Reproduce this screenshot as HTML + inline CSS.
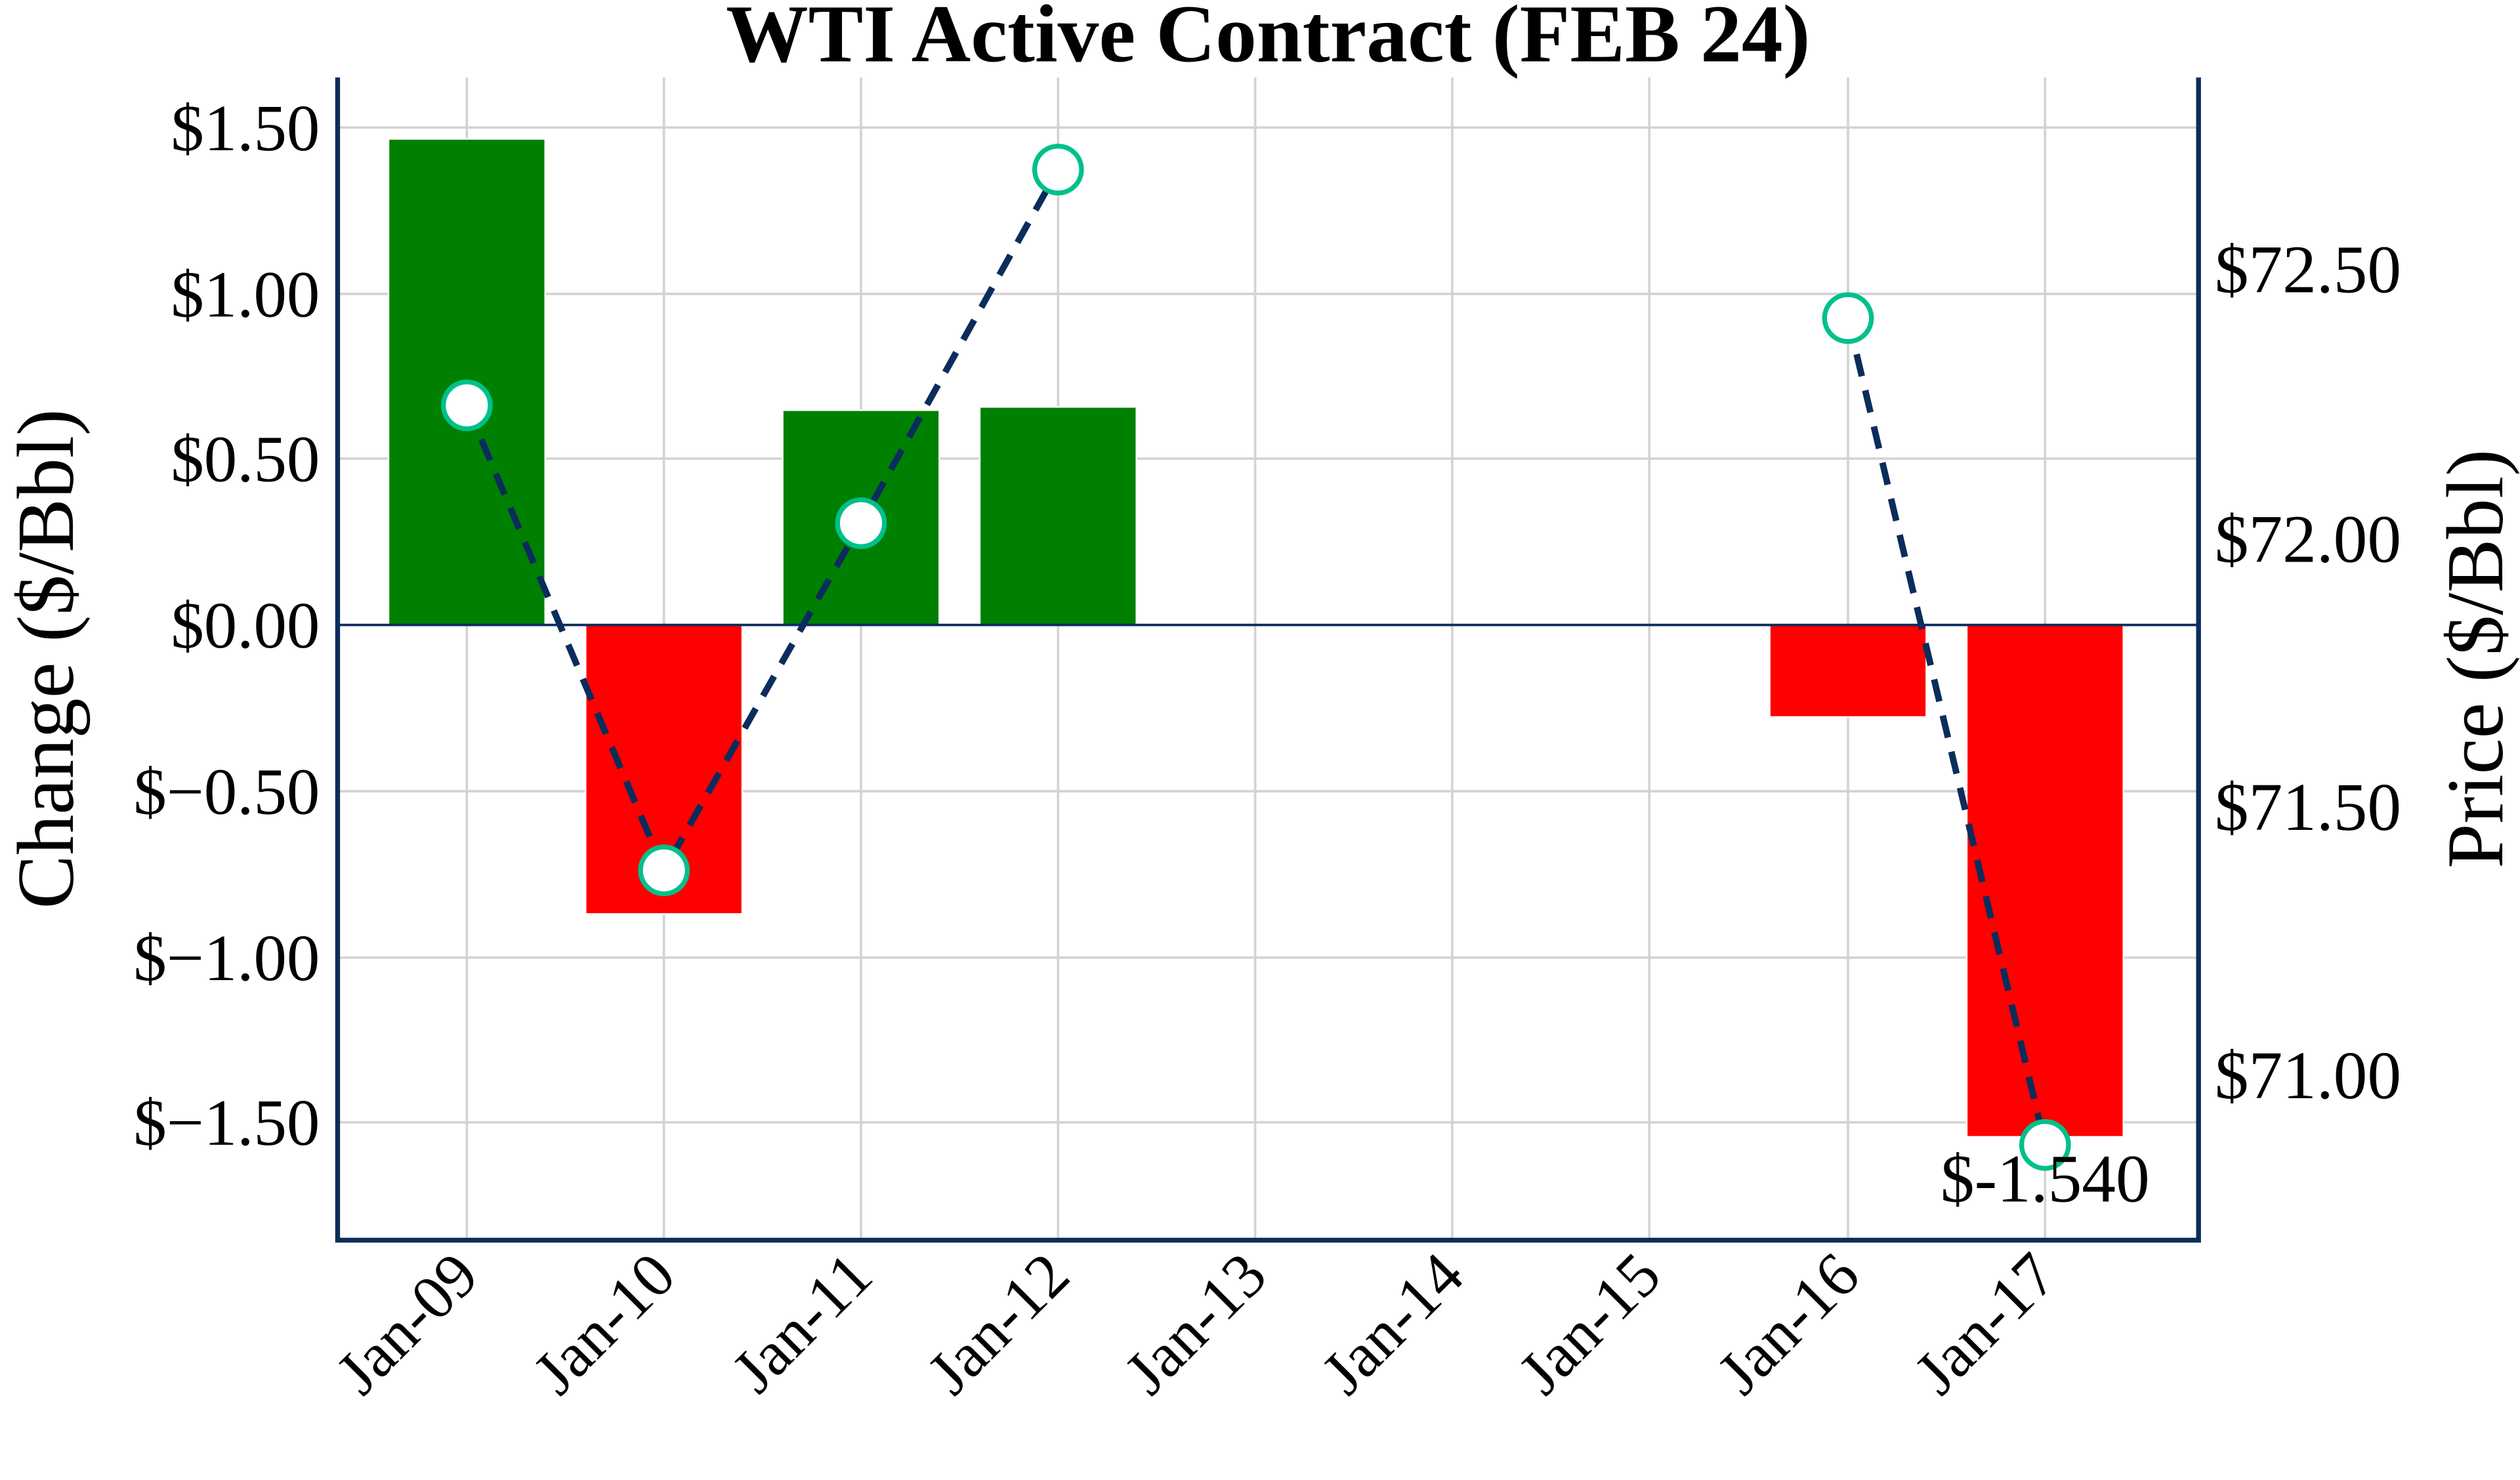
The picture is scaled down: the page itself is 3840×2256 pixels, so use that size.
<!DOCTYPE html>
<html><head><meta charset="utf-8"><style>
html,body{margin:0;padding:0;background:#fff;}
svg{display:block;}
text{font-family:"Liberation Serif",serif;fill:#000;}
</style></head><body>
<svg width="3840" height="2256" viewBox="0 0 1560 916.5" preserveAspectRatio="none" xmlns="http://www.w3.org/2000/svg">
<rect x="0" y="0" width="1560" height="916.5" fill="#fff"/>
<text x="785" y="38" font-size="51" font-weight="bold" text-anchor="middle">WTI Active Contract (FEB 24)</text>
<g stroke="#d3d3d3" stroke-width="1.5">
<line x1="209" x2="1361" y1="79" y2="79"/>
<line x1="209" x2="1361" y1="182" y2="182"/>
<line x1="209" x2="1361" y1="284" y2="284"/>
<line x1="209" x2="1361" y1="490" y2="490"/>
<line x1="209" x2="1361" y1="593" y2="593"/>
<line x1="209" x2="1361" y1="695" y2="695"/>
<line x1="289" x2="289" y1="48" y2="768"/>
<line x1="411" x2="411" y1="48" y2="768"/>
<line x1="533" x2="533" y1="48" y2="768"/>
<line x1="655" x2="655" y1="48" y2="768"/>
<line x1="777" x2="777" y1="48" y2="768"/>
<line x1="899" x2="899" y1="48" y2="768"/>
<line x1="1021" x2="1021" y1="48" y2="768"/>
<line x1="1144" x2="1144" y1="48" y2="768"/>
<line x1="1266" x2="1266" y1="48" y2="768"/>
</g>
<g stroke="#fff" stroke-width="1">
<rect x="240.5" y="86" width="97" height="301" fill="#008000"/>
<rect x="362.5" y="387" width="97" height="179" fill="#ff0000"/>
<rect x="484.5" y="254" width="97" height="133" fill="#008000"/>
<rect x="606.5" y="252" width="97" height="135" fill="#008000"/>
<rect x="1095.5" y="387" width="97" height="57" fill="#ff0000"/>
<rect x="1217.5" y="387" width="97" height="317" fill="#ff0000"/>
</g>
<line x1="209" x2="1361" y1="387" y2="387" stroke="#0b2d5b" stroke-width="1.5"/>
<g fill="none" stroke="#0b2d5b" stroke-width="4" stroke-dasharray="14,9">
<polyline points="289,251 411,539 533,324 655,105"/>
<polyline points="1144,197 1266,709"/>
</g>
<g fill="#fff" stroke="#00c08b" stroke-width="3">
<circle cx="289" cy="251" r="14.5"/>
<circle cx="411" cy="539" r="14.5"/>
<circle cx="533" cy="324" r="14.5"/>
<circle cx="655" cy="105" r="14.5"/>
<circle cx="1144" cy="197" r="14.5"/>
<circle cx="1266" cy="709" r="14.5"/>
</g>
<text x="1266" y="744" font-size="42" text-anchor="middle">$-1.540</text>
<g stroke="#0b2d5b" stroke-width="3" fill="none">
<polyline points="209,48 209,768 1361,768 1361,48"/>
</g>
<g font-size="41" text-anchor="end">
<text x="198" y="93">$1.50</text>
<text x="198" y="196">$1.00</text>
<text x="198" y="298">$0.50</text>
<text x="198" y="401">$0.00</text>
<text x="198" y="504">$−0.50</text>
<text x="198" y="607">$−1.00</text>
<text x="198" y="709">$−1.50</text>
</g>
<g font-size="42">
<text x="1371" y="181">$72.50</text>
<text x="1371" y="348">$72.00</text>
<text x="1371" y="514">$71.50</text>
<text x="1371" y="680">$71.00</text>
</g>
<text transform="translate(45,408) rotate(-90)" font-size="50" text-anchor="middle">Change ($/Bbl)</text>
<text transform="translate(1549,408) rotate(-90)" font-size="50" text-anchor="middle">Price ($/Bbl)</text>
<g font-size="39" text-anchor="end">
<text transform="translate(298,792) rotate(-45)">Jan-09</text>
<text transform="translate(420,792) rotate(-45)">Jan-10</text>
<text transform="translate(542,792) rotate(-45)">Jan-11</text>
<text transform="translate(664,792) rotate(-45)">Jan-12</text>
<text transform="translate(786,792) rotate(-45)">Jan-13</text>
<text transform="translate(908,792) rotate(-45)">Jan-14</text>
<text transform="translate(1030,792) rotate(-45)">Jan-15</text>
<text transform="translate(1153,792) rotate(-45)">Jan-16</text>
<text transform="translate(1275,792) rotate(-45)">Jan-17</text>
</g>
</svg>
</body></html>
